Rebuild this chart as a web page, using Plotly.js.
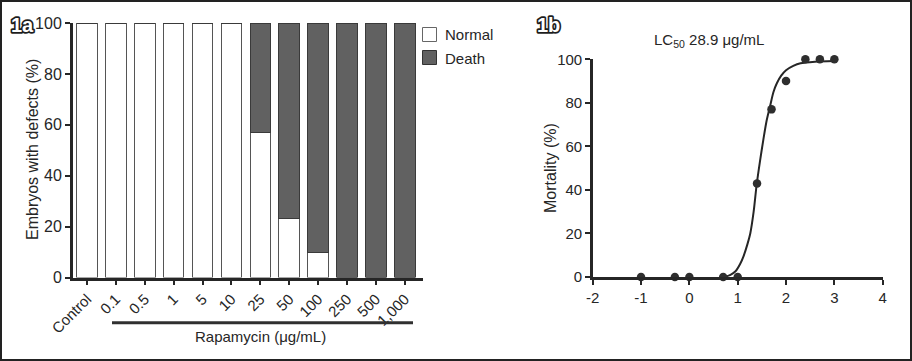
<!DOCTYPE html>
<html>
<head>
<meta charset="utf-8">
<script src="https://cdn.plot.ly/plotly-3.0.1.min.js"></script>
<style>
  html, body { margin: 0; padding: 0; background: #fff; }
  #chart { width: 912px; height: 361px; }
  .annotation[data-index="0"] .annotation-text,
  .annotation[data-index="1"] .annotation-text {
    stroke: #1e1e1e; stroke-width: 3.4px; paint-order: stroke; stroke-linejoin: round;
  }
</style>
</head>
<body>
<div id="chart"></div>
<script>
// ---- Panel 1a data ----
const categories = ["Control", "0.1", "0.5", "1", "5", "10", "25", "50", "100", "250", "500", "1,000"];
const normalPct = [100, 100, 100, 100, 100, 100, 57, 23, 10, 0, 0, 0];
const deathPct  = [0, 0, 0, 0, 0, 0, 43, 77, 90, 100, 100, 100];

// ---- Panel 1b data ----
const logConc   = [-1, -0.3, 0, 0.7, 1, 1.4, 1.7, 2, 2.4, 2.7, 3];
const mortality = [0, 0, 0, 0, 0, 43, 77, 90, 100, 100, 100];
const curveX = [0.72, 0.85, 0.95, 1.05, 1.12, 1.2, 1.26, 1.33, 1.39, 1.46, 1.53, 1.6, 1.67, 1.74, 1.81, 1.9, 2.0, 2.15, 2.3, 2.6, 3.0];
const curveY = [0, 1, 2.5, 6, 9.5, 15, 20, 30, 42, 53, 63, 72, 78.5, 85, 89, 92.5, 95, 97, 98.2, 98.9, 99.2];
const bTickVals = [-2, -1, 0, 1, 2, 3, 4];
const bTickText = ["-2", "-1", "0", "1", "2", "3", "4"];

const FONT = "Liberation Sans, Arial, Helvetica, sans-serif";
const INK = "#262626";
const W = 912, H = 361;
const px = v => v / W;
const py = v => 1 - v / H;

const traces = [
  {
    type: "bar", x: categories, y: normalPct, name: "Normal",
    xaxis: "x", yaxis: "y",
    marker: { color: "#ffffff", line: { color: "#555555", width: 1 } },
    showlegend: false, hoverinfo: "skip"
  },
  {
    type: "bar", x: categories, y: deathPct, name: "Death",
    xaxis: "x", yaxis: "y",
    marker: { color: "#616161", line: { color: "#3a3a3a", width: 1 } },
    showlegend: false, hoverinfo: "skip"
  },
  {
    type: "scatter", mode: "lines", x: curveX, y: curveY,
    xaxis: "x2", yaxis: "y2",
    line: { color: INK, width: 2, shape: "spline", smoothing: 0.8 },
    showlegend: false, hoverinfo: "skip", cliponaxis: false
  },
  {
    type: "scatter", mode: "markers", x: logConc, y: mortality,
    xaxis: "x2", yaxis: "y2",
    marker: { color: "#2e2e2e", size: 8.5 },
    showlegend: false, hoverinfo: "skip", cliponaxis: false
  }
];

const axisCommon = {
  showgrid: false, zeroline: false, showline: true,
  linecolor: INK, ticks: "outside", tickcolor: INK,
  tickfont: { family: FONT, size: 15, color: INK },
  fixedrange: true
};

const layout = {
  width: W, height: H,
  margin: { l: 0, r: 0, t: 0, b: 0, pad: 0 },
  paper_bgcolor: "#ffffff", plot_bgcolor: "rgba(0,0,0,0)",
  barmode: "stack", bargap: 0.29,
  font: { family: FONT, color: INK },
  xaxis: Object.assign({}, axisCommon, {
    domain: [px(73), px(422.7)],
    type: "category", range: [-0.486, 11.62],
    linewidth: 3, ticklen: 4, tickwidth: 2, tickangle: -45,
    anchor: "y", automargin: false
  }),
  yaxis: Object.assign({}, axisCommon, {
    domain: [py(277.5), py(23)],
    range: [0, 100], tickvals: [0, 20, 40, 60, 80, 100],
    tickfont: { family: FONT, size: 16, color: INK },
    linewidth: 3, ticklen: 5, tickwidth: 2,
    anchor: "x", automargin: false
  }),
  xaxis2: Object.assign({}, axisCommon, {
    domain: [px(592.7), px(882.7)],
    range: [-2, 4], tickvals: bTickVals, ticktext: bTickText,
    linewidth: 2.5, ticklen: 5, tickwidth: 2,
    anchor: "y2", automargin: false
  }),
  yaxis2: Object.assign({}, axisCommon, {
    domain: [py(277), py(59.3)],
    range: [0, 100], tickvals: [0, 20, 40, 60, 80, 100],
    linewidth: 2.5, ticklen: 5, tickwidth: 2,
    anchor: "x2", automargin: false
  }),
  shapes: [
    // outer frame
    { type: "rect", xref: "paper", yref: "paper", x0: 0, x1: 1, y0: 0, y1: 1,
      line: { color: "#222222", width: 4 }, fillcolor: "rgba(0,0,0,0)" },
    // Rapamycin underline
    { type: "line", xref: "paper", yref: "paper", x0: px(112), x1: px(413), y0: py(322.7), y1: py(322.7),
      line: { color: "#303030", width: 3 } },
    // legend swatches
    { type: "rect", xref: "paper", yref: "paper", x0: px(422.5), x1: px(436.5), y0: py(41.5), y1: py(27.5),
      line: { color: "#666666", width: 1 }, fillcolor: "#ffffff" },
    { type: "rect", xref: "paper", yref: "paper", x0: px(422.5), x1: px(436.5), y0: py(64.5), y1: py(50.5),
      line: { color: "#333333", width: 1 }, fillcolor: "#616161" }
  ],
  annotations: [
    { text: "<b>1a</b>", xref: "paper", yref: "paper", x: px(22), y: py(25.5), showarrow: false,
      xanchor: "center", yanchor: "middle", font: { family: FONT, size: 20, color: "#ffffff" } },
    { text: "<b>1b</b>", xref: "paper", yref: "paper", x: px(548), y: py(25.5), showarrow: false,
      xanchor: "center", yanchor: "middle", font: { family: FONT, size: 20, color: "#ffffff" } },
    { text: "Embryos with defects (%)", xref: "paper", yref: "paper", x: px(32), y: py(150), textangle: -90,
      showarrow: false, xanchor: "center", yanchor: "middle", font: { family: FONT, size: 16, color: INK } },
    { text: "Rapamycin (μg/mL)", xref: "paper", yref: "paper", x: px(260), y: py(336), showarrow: false,
      xanchor: "center", yanchor: "middle", font: { family: FONT, size: 15, color: INK } },
    { text: "Normal", xref: "paper", yref: "paper", x: px(443), y: py(35), showarrow: false,
      xanchor: "left", yanchor: "middle", font: { family: FONT, size: 15, color: INK } },
    { text: "Death", xref: "paper", yref: "paper", x: px(443), y: py(58), showarrow: false,
      xanchor: "left", yanchor: "middle", font: { family: FONT, size: 15, color: INK } },
    { text: "Mortality (%)", xref: "paper", yref: "paper", x: px(550), y: py(168), textangle: -90,
      showarrow: false, xanchor: "center", yanchor: "middle", font: { family: FONT, size: 16, color: INK } },
    { text: "LC<sub>50</sub> 28.9 μg/mL", xref: "paper", yref: "paper", x: px(709), y: py(40), showarrow: false,
      xanchor: "center", yanchor: "middle", font: { family: FONT, size: 15, color: INK } }
  ]
};

Plotly.newPlot("chart", traces, layout, { staticPlot: true, displayModeBar: false });
</script>
</body>
</html>
